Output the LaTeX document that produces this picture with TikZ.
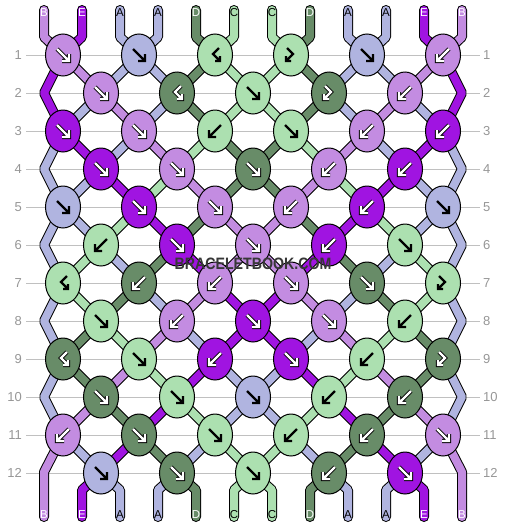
\documentclass[tikz,border=0pt]{standalone}
\usepackage{fontspec}
\setmainfont{Liberation Sans}
\newfontfamily\wmfont[FakeStretch=0.86]{Liberation Sans}
\usepackage{tikz}
\usetikzlibrary{shapes.geometric,calc,backgrounds}
\definecolor{strA}{RGB}{176,180,224}
\definecolor{strB}{RGB}{195,140,225}
\definecolor{strC}{RGB}{172,224,176}
\definecolor{strD}{RGB}{104,140,104}
\definecolor{strE}{RGB}{160,20,225}
\colorlet{arrA}{black}
\colorlet{arrC}{black}
\colorlet{arrB}{white}
\colorlet{arrD}{white}
\colorlet{arrE}{white}
\colorlet{rimA}{strA}
\colorlet{rimC}{strC}
\colorlet{rimB}{black}
\colorlet{rimD}{black}
\colorlet{rimE}{black}
\definecolor{gridgray}{RGB}{192,192,192}
\definecolor{numgray}{RGB}{150,150,150}
\definecolor{wmgray}{RGB}{55,55,55}
\tikzstyle{knot} = [ellipse, draw=black, line width=1pt, minimum width=35pt, minimum height=42pt, inner sep=0pt]
\tikzstyle{strand} = [draw=black, line width=1pt, double distance=8pt, line join=bevel]
\tikzstyle{rowline} = [draw=gridgray, line width=0.8pt]
\tikzstyle{rownum} = [font=\fontsize{13}{13}\selectfont, text=numgray, inner sep=0pt]
\tikzstyle{strlabel} = [font=\fontsize{11.5}{11.5}\selectfont, inner sep=0pt]

% arrow glyphs, centred on the knot
\def\mkf{(-6,-6) -- (6,6) (6,-1) -- (6,6) -- (-1,6)}
\def\mkb{(6,-6) -- (-6,6) (-6,-1) -- (-6,6) -- (1,6)}
\def\mkfb{(-4,-7) -- (2,-1) -- (-5,6) (-5,1) -- (-5,6) -- (0,6)}
\def\mkbf{(4,-7) -- (-2,-1) -- (5,6) (5,1) -- (5,6) -- (0,6)}
\newcommand\knotmark[3]{% type, knot, colour
  \expandafter\let\expandafter\mkpath\csname mk#1\endcsname
  \draw[draw=rim#3, line width=4.2pt, line cap=square, shift={(#2.center)}] \mkpath;
  \draw[draw=arr#3, line width=2.2pt, line cap=square, shift={(#2.center)}] \mkpath;}

\begin{document}
\begin{tikzpicture}[x=1pt, y=-1pt]
    \useasboundingbox (0,0) rectangle (506,528);

    % Knots: colour/type, row by row
    \foreach \r/\knots in {1/{B/f,A/f,C/bf,C/fb,A/f,B/b},
                           2/{B/f,D/bf,C/f,D/fb,B/b},
                           3/{E/f,B/f,C/b,C/f,B/b,E/b},
                           4/{E/f,B/f,D/f,B/b,E/b},
                           5/{A/f,E/f,B/f,B/b,E/b,A/f},
                           6/{C/b,E/f,B/f,E/b,C/f},
                           7/{C/bf,D/b,B/b,B/f,D/f,C/fb},
                           8/{C/f,B/b,E/f,B/f,C/b},
                           9/{D/bf,C/f,E/b,E/f,C/b,D/fb},
                           10/{D/f,C/f,A/f,C/b,D/b},
                           11/{B/b,D/f,C/f,C/b,D/b,B/f},
                           12/{A/f,D/f,C/f,D/b,E/f}} {
        \foreach \kcol/\ktype [count=\n] in \knots {
            \pgfmathsetmacro\kx{mod(\r,2)==1 ? 63+76*(\n-1) : 101+76*(\n-1)}
            \node[knot, fill=str\kcol] (k-\r-\n) at (\kx, {55+38*(\r-1)}) {};
            \knotmark{\ktype}{k-\r-\n}{\kcol}
        }
    }

    \begin{scope}[on background layer]
    % Row lines and numbers
    \foreach \r in {1,...,12} {
        \coordinate (gl-\r) at (26, {55+38*(\r-1)});
        \coordinate (gr-\r) at (480, {55+38*(\r-1)});
        \draw[rowline] (gl-\r) -- (gr-\r);
        \node[rownum, anchor=east] (nl-\r) at ($(gl-\r)+(-4,0)$) {\r};
        \node[rownum, anchor=west] (nr-\r) at ($(gr-\r)+(3,0)$) {\r};
    }

    % Strands in
    \foreach \kcol [count=\p] in {B,E,A,A,D,C,C,D,A,A,E,B} {
        \pgfmathtruncatemacro\up{ceil(\p/2)}
        \coordinate (top-\p) at ({44+38*(\p-1)}, 10);
        \draw[strand, double=str\kcol, line cap=round] (top-\p) -- ++(0,27) -- (k-1-\up.center);
        \node[strlabel, text=arr\kcol] (tl-\p) at ($(top-\p)+(0,3)$) {\kcol};
    }

    % Strands between rows: colours after each row
    \foreach \r/\state in {1/{E,B,A,A,D,C,C,D,A,A,B,E},
                           2/{E,A,B,A,D,C,C,D,A,B,A,E},
                           3/{A,E,A,B,C,D,D,C,B,A,E,A},
                           4/{A,A,E,C,B,D,D,B,C,E,A,A},
                           5/{A,A,C,E,D,B,B,D,E,C,A,A},
                           6/{A,C,A,D,E,B,B,E,D,A,C,A},
                           7/{A,C,D,A,B,E,E,B,A,D,C,A},
                           8/{A,D,C,B,A,E,E,A,B,C,D,A},
                           9/{A,D,B,C,E,A,A,E,C,B,D,A},
                           10/{A,B,D,E,C,A,A,C,E,D,B,A},
                           11/{B,A,E,D,A,C,C,A,D,E,A,B}} {
        \pgfmathtruncatemacro\rr{\r+1}
        \pgfmathtruncatemacro\rrr{\r+2}
        \foreach \kcol [count=\p] in \state {
            \pgfmathtruncatemacro\up{ceil(\p/2)}
            \pgfmathtruncatemacro\dn{floor(\p/2)}
            \ifodd\r\relax
                \ifnum\p=1\relax
                    \ifnum\r<11\relax
                        \draw[strand, double=str\kcol] (k-\r-1.center) -- ($(k-\r-1.center)!.5!(k-\rrr-1.center)+(-19,0)$) -- (k-\rrr-1.center);
                    \fi
                \else\ifnum\p=12\relax
                    \ifnum\r<11\relax
                        \draw[strand, double=str\kcol] (k-\r-6.center) -- ($(k-\r-6.center)!.5!(k-\rrr-6.center)+(19,0)$) -- (k-\rrr-6.center);
                    \fi
                \else
                    \draw[strand, double=str\kcol] (k-\r-\up.center) -- (k-\rr-\dn.center);
                \fi\fi
            \else
                \ifnum\dn>0\relax\ifnum\p<12\relax
                    \draw[strand, double=str\kcol] (k-\r-\dn.center) -- (k-\rr-\up.center);
                \fi\fi
            \fi
        }
    }

    % Strands out
    \foreach \kcol [count=\p] in {B,E,A,A,D,C,C,D,A,A,E,B} {
        \pgfmathtruncatemacro\dn{floor(\p/2)}
        \coordinate (bot-\p) at ({44+38*(\p-1)}, 517);
        \ifnum\p=1\relax
            \draw[strand, double=str\kcol, line cap=round] (bot-\p) -- ++(0,-45) -- (k-11-1.center);
        \else\ifnum\p=12\relax
            \draw[strand, double=str\kcol, line cap=round] (bot-\p) -- ++(0,-45) -- (k-11-6.center);
        \else
            \draw[strand, double=str\kcol, line cap=round] (bot-\p) -- ++(0,-27) -- (k-12-\dn.center);
        \fi\fi
        \node[strlabel, text=arr\kcol] (bl-\p) at ($(bot-\p)+(0,-2)$) {\kcol};
    }
    \end{scope}

    % Watermark
    \node[font=\wmfont\bfseries\fontsize{16.5}{16.5}\selectfont, text=wmgray] (wm) at (253,264) {BRACELETBOOK.COM};
\end{tikzpicture}
\end{document}
